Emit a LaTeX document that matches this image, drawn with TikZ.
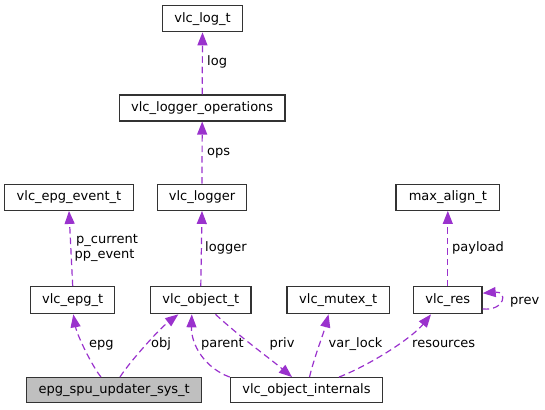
\documentclass[tikz,border=0pt]{standalone}
\usepackage{fontspec}
\setmainfont{DejaVu Sans}
\usetikzlibrary{arrows.meta}
\definecolor{edgec}{HTML}{9A32CD}
\definecolor{boxc}{HTML}{333333}
\definecolor{sysfill}{HTML}{BFBFBF}
\begin{document}
\begin{tikzpicture}[x=1pt,y=-1pt,
  box/.style={draw=boxc, line width=1.3pt, fill=white, inner sep=0pt,
    font=\fontsize{13}{15}\selectfont, minimum height=26pt},
  rel/.style={draw=edgec, line width=1.2pt, dash pattern=on 6.5pt off 4pt,
    -{Triangle[length=13pt,width=10pt]}},
  lab/.style={font=\fontsize{13}{15}\selectfont, inner sep=0pt, anchor=west,
    text height=9.5pt, text depth=3pt}]
\useasboundingbox (0,0) rectangle (545,409);

% nodes
\node[box, minimum width=80.4pt] (log) at (202.5,18.7) {vlc\_log\_t};
\node[box, minimum width=165.7pt] (ops) at (202.2,107.9) {vlc\_logger\_operations};
\node[box, minimum width=129pt] (epgev) at (69,197.3) {vlc\_epg\_event\_t};
\node[box, minimum width=89.4pt] (logger) at (202,197.3) {vlc\_logger};
\node[box, minimum width=103.5pt] (maxal) at (447.8,197.3) {max\_align\_t};
\node[box, minimum width=84.1pt, minimum height=27pt] (epg) at (72.7,300.2) {vlc\_epg\_t};
\node[box, minimum width=100.5pt, minimum height=27pt] (obj) at (200.8,300.2) {vlc\_object\_t};
\node[box, minimum width=102.3pt, minimum height=27pt] (mutex) at (338.2,300.2) {vlc\_mutex\_t};
\node[box, minimum width=68.5pt, minimum height=27pt] (res) at (447.8,300.2) {vlc\_res};
\node[box, fill=sysfill, minimum width=175pt, minimum height=24.8pt] (sys) at (114.2,390.1) {epg\_spu\_updater\_sys\_t};
\node[box, minimum width=152.3pt, minimum height=24.8pt] (internals) at (306.5,390.1) {vlc\_object\_internals};

% edges
\draw[rel] (ops.north) -- (log.south);
\draw[rel] (logger.north) -- (ops.south);
\draw[rel] (obj.north) -- (logger.south);
\draw[rel] (epg.north) -- (epgev.south);
\draw[rel] (res.north) -- (maxal.south);
\draw[rel] ([xshift=-13.2pt]sys.north) .. controls (92,366) and (77,335) .. ([xshift=0.6pt]epg.south);
\draw[rel] ([xshift=5.8pt]sys.north) .. controls (128,364) and (158,330) .. ([xshift=-22.5pt]obj.south);
\draw[rel] (internals.north west) .. controls (205,368) and (191,345) .. ([xshift=-9pt]obj.south);
\draw[rel] ([xshift=14.7pt]obj.south) .. controls (240,337) and (268,357) .. ([xshift=-14.5pt]internals.north);
\draw[rel] ([xshift=3pt]internals.north) .. controls (314,358) and (324,332) .. ([xshift=-9.7pt]mutex.south);
\draw[rel] ([xshift=32.5pt]internals.north) .. controls (370,365) and (412,338) .. ([xshift=-16.8pt]res.south);
\draw[rel] ([yshift=-8.8pt]res.east) .. controls (505,311) and (508,291) .. ([yshift=7pt]res.east);

% labels
\node[lab] (llog) at (207,62.7) {log};
\node[lab] (lops) at (207,152) {ops};
\node[lab] (llogger) at (205,248.7) {logger};
\node[lab] (lpayload) at (452,248.7) {payload};
\node[lab, align=left, text height=, text depth=] (lpcur) at (74.3,248.3) {\hspace*{1.7pt}p\_current\\pp\_event};
\node[lab] (lepg) at (89,344.5) {epg};
\node[lab] (lobj) at (151,344.5) {obj};
\node[lab] (lparent) at (201,344.5) {parent};
\node[lab] (lpriv) at (269.4,344.5) {priv};
\node[lab] (lvar) at (328.5,344.5) {var\_lock};
\node[lab] (lres) at (412,344.5) {resources};
\node[lab] (lprev) at (510,301.5) {prev};
\end{tikzpicture}
\end{document}
